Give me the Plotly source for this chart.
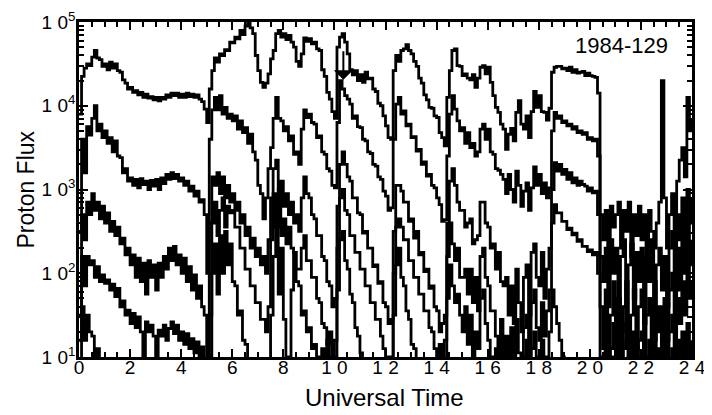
import numpy as np
import plotly.graph_objects as go

# time grid (hours UT), 0.1 h sampling
time_h = np.round(np.arange(0, 241) * 0.1, 1)

# log10 proton flux, one row per hour
ch1_log = [
 3.9,4.35,4.45,4.5,4.48,4.58,4.66,4.57,4.55,4.47,
 4.5,4.43,4.52,4.45,4.5,4.42,4.4,4.31,4.27,4.2,
 4.22,4.16,4.18,4.13,4.16,4.1,4.14,4.09,4.11,4.07,
 4.1,4.06,4.1,4.08,4.13,4.1,4.15,4.12,4.15,4.1,
 4.14,4.1,4.15,4.11,4.14,4.1,4.13,4.08,4.05,3.96,
 3.8,4.2,4.42,4.57,4.52,4.62,4.6,4.67,4.66,4.76,
 4.75,4.82,4.8,4.9,4.85,4.95,5.0,4.93,4.86,4.6,
 4.42,4.28,4.22,4.27,4.38,4.56,4.66,4.86,4.9,4.82,
 4.86,4.79,4.84,4.76,4.7,4.53,4.47,4.62,4.81,4.77,
 4.8,4.74,4.76,4.68,4.66,4.43,4.35,4.16,4.08,3.93,
 3.85,4.7,4.82,4.86,4.76,4.62,4.43,4.37,4.42,4.3,
 4.37,4.28,4.4,4.32,4.33,4.2,4.17,4.03,4.0,3.88,
 3.76,3.62,3.6,4.42,4.6,4.53,4.66,4.68,4.73,4.66,
 4.62,4.53,4.47,4.33,4.27,4.13,4.07,3.98,3.97,3.88,
 3.86,3.68,3.62,3.52,4.1,4.42,4.66,4.68,4.48,4.47,
 4.36,4.38,4.33,4.31,4.37,4.22,4.33,4.46,4.48,4.38,
 4.46,4.28,4.12,3.98,3.92,3.78,3.72,3.48,3.66,3.73,
 3.58,3.92,4.06,3.78,3.72,3.88,3.62,3.93,4.17,3.98,
 4.12,3.93,3.92,3.83,3.97,4.4,4.46,4.47,4.47,4.44,
 4.45,4.42,4.46,4.4,4.43,4.39,4.4,4.41,4.36,4.39,
 4.36,4.35,4.34,4.15,2.7,2.4,2.75,2.2,2.8,2.55,
 2.7,2.85,2.3,2.75,2.5,2.85,2.2,2.7,2.45,2.8,
 2.4,2.7,2.1,2.75,2.5,2.3,2.6,2.85,4.3,2.9,
 2.3,2.7,2.95,2.5,3.1,3.35,3.5,3.15,4.1,3.7,
 3.85]

ch2_log = [
 2.5,3.6,3.2,3.75,3.65,3.85,4.0,3.7,3.78,3.62,
 3.7,3.55,3.62,3.45,3.58,3.4,3.38,3.2,3.25,3.1,
 3.14,3.05,3.12,3.02,3.13,3.06,3.1,3.0,3.11,3.04,
 3.12,3.0,3.14,3.07,3.18,3.12,3.2,3.13,3.18,3.1,
 3.14,3.05,3.1,2.98,3.04,2.92,2.98,2.85,2.88,2.7,
 2.0,3.6,3.95,4.1,3.95,4.12,3.9,3.98,3.85,3.9,
 3.82,3.88,3.72,3.82,3.68,3.74,3.55,3.66,3.45,3.35,
 3.05,2.95,2.65,2.9,3.25,3.5,3.85,4.1,3.85,3.82,
 3.7,3.75,3.58,3.64,3.42,3.45,3.3,3.72,3.95,3.86,
 3.9,3.8,3.78,3.62,3.64,3.45,3.42,3.25,3.22,3.05,
 3.02,3.8,4.3,4.2,4.12,4.08,4.02,3.85,3.88,3.75,
 3.74,3.6,3.58,3.45,3.43,3.3,3.28,3.15,3.12,2.98,
 2.92,2.75,2.78,3.6,4.02,4.1,3.9,3.94,3.76,3.78,
 3.62,3.63,3.46,3.48,3.3,3.33,3.16,3.18,3.05,3.02,
 2.9,2.82,2.62,2.64,3.4,3.9,4.12,3.96,3.82,3.7,
 3.74,3.55,3.68,3.5,3.55,3.4,3.45,3.72,3.78,3.6,
 3.72,3.45,3.42,3.25,3.23,3.18,3.12,2.95,3.18,3.0,
 2.85,3.22,3.05,2.8,2.98,3.08,2.75,3.02,3.27,3.05,
 3.18,2.95,3.08,2.9,3.02,3.7,3.92,3.85,3.88,3.8,
 3.82,3.76,3.78,3.72,3.75,3.68,3.7,3.66,3.68,3.6,
 3.62,3.58,3.6,3.4,2.2,1.9,2.3,1.6,2.4,2.0,
 2.3,1.5,2.2,2.4,1.3,2.1,2.35,1.7,2.25,1.9,
 2.3,1.4,2.2,1.9,2.4,1.2,2.1,2.3,1.8,2.2,
 1.6,2.3,2.5,1.9,2.7,2.4,2.9,2.3,3.0,2.6,
 2.9]

ch3_log = [
 1.5,2.7,2.4,2.85,2.7,2.95,2.75,2.85,2.65,2.8,
 2.6,2.72,2.5,2.62,2.45,2.55,2.35,2.42,2.22,2.3,
 2.1,2.22,1.95,2.18,1.9,2.12,1.75,2.15,1.95,2.1,
 1.8,2.12,1.95,2.2,2.05,2.3,2.15,2.32,2.1,2.22,
 2.0,2.18,1.9,2.08,1.8,1.98,1.7,1.85,1.6,1.5,
 0.9,2.6,3.15,3.05,3.2,2.95,3.15,2.9,3.05,2.85,
 2.95,2.75,2.85,2.6,2.7,2.45,2.55,2.3,2.42,2.2,
 2.3,2.1,2.2,2.0,2.4,2.9,3.25,3.35,3.0,3.1,
 2.8,2.95,2.7,2.85,2.6,2.7,2.5,2.9,3.15,2.95,
 2.9,2.7,2.65,2.45,2.45,2.2,2.15,1.9,1.85,1.6,
 1.7,2.8,3.3,3.45,3.3,3.15,3.1,2.9,2.9,2.72,
 2.7,2.48,2.5,2.3,2.3,2.08,2.1,1.88,1.9,1.65,
 1.6,1.4,1.45,2.5,3.05,3.05,2.98,2.85,2.85,2.62,
 2.65,2.42,2.5,2.22,2.25,2.02,2.05,1.82,1.85,1.6,
 1.55,1.3,1.4,1.5,2.6,3.1,3.25,3.05,2.85,2.75,
 2.75,2.55,2.6,2.65,2.35,2.4,2.45,2.85,2.85,2.6,
 2.55,2.3,2.35,2.05,2.25,1.9,1.85,1.95,1.5,1.85,
 1.4,2.05,1.65,1.3,1.95,2.1,1.5,2.25,2.35,1.95,
 1.85,2.25,1.7,2.05,2.3,3.0,3.32,3.22,3.3,3.18,
 3.24,3.12,3.2,3.08,3.14,3.05,3.1,3.06,3.04,2.98,
 3.02,2.96,2.98,2.7,1.6,1.1,1.8,0.9,1.5,1.9,
 1.2,1.7,0.8,1.6,1.9,1.0,1.5,1.8,1.1,1.6,
 1.8,0.9,1.5,1.7,1.0,1.9,1.3,1.6,0.8,1.7,
 1.2,1.8,2.0,1.4,2.3,1.8,2.4,2.0,2.6,2.1,
 2.4]

ch4_log = [
 1.2,2.2,1.85,2.2,2.1,2.15,1.95,2.08,1.9,1.98,
 1.88,1.92,1.8,1.87,1.72,1.82,1.6,1.67,1.5,1.56,
 1.4,1.52,1.35,1.48,1.3,1.0,1.42,1.3,1.38,1.25,
 1.0,1.32,1.25,1.38,1.2,1.34,1.42,1.28,1.38,1.2,
 1.3,1.15,1.28,1.1,1.22,1.05,1.18,1.0,1.12,0.95,
 0.8,1.5,2.6,2.85,2.45,2.75,2.9,2.55,2.8,2.72,
 2.75,2.55,2.55,2.3,2.3,2.05,2.05,1.85,1.85,1.65,
 1.65,1.45,1.45,1.3,1.6,2.4,2.95,2.55,3.0,2.45,
 2.65,2.35,2.55,2.3,2.25,2.05,2.05,2.3,2.45,2.15,
 2.15,1.95,1.95,1.7,1.65,1.4,1.35,1.15,1.3,0.9,
 1.2,2.3,2.9,3.0,2.75,2.7,2.45,2.45,2.25,2.25,
 2.05,2.05,1.85,1.85,1.65,1.65,1.45,1.45,1.25,1.1,
 0.9,1.0,0.8,2.0,2.55,2.65,2.55,2.4,2.4,2.15,
 2.15,1.95,1.95,1.75,1.75,1.55,1.55,1.35,1.3,1.1,
 0.9,1.15,0.8,1.2,2.2,2.6,2.35,2.15,2.3,1.95,
 1.95,2.05,1.75,2.05,1.65,1.95,1.55,2.2,2.3,1.95,
 1.85,1.55,1.55,1.25,1.0,1.45,0.9,1.25,1.0,1.35,
 0.9,1.45,1.05,0.8,1.35,1.5,0.9,1.65,1.8,1.35,
 1.2,1.65,1.25,1.55,1.8,2.6,2.82,2.72,2.72,2.62,
 2.62,2.52,2.54,2.46,2.48,2.38,2.4,2.32,2.32,2.26,
 2.28,2.22,2.25,2.0,1.0,0.8,1.3,0.8,1.1,1.4,
 0.9,1.2,0.8,1.1,1.4,0.8,1.0,1.3,0.8,1.2,
 1.3,0.8,1.0,1.2,0.8,1.4,0.9,1.1,0.8,1.2,
 0.8,1.3,1.5,1.0,1.7,1.4,1.9,1.5,2.1,1.7,
 1.9]

ch5_log = [
 0.8,1.6,1.2,1.5,1.3,1.25,0.9,1.1,0.8,0.8,
 0.8,0.8,0.8,0.8,0.8,0.8,0.8,0.8,0.8,0.8,
 0.8,0.8,0.8,0.8,0.8,0.8,0.8,0.8,0.8,0.8,
 0.8,0.8,0.8,0.8,0.8,0.8,0.8,0.8,0.8,0.8,
 0.8,0.8,0.8,0.8,0.8,0.8,0.8,0.8,0.8,0.8,
 0.8,1.0,2.0,2.35,1.75,2.45,2.0,2.5,2.1,2.35,
 1.9,1.85,1.5,1.55,1.2,1.15,0.9,0.8,0.8,0.8,
 0.8,0.8,0.8,0.9,0.9,1.5,2.2,2.6,1.75,2.3,
 1.45,1.0,0.9,1.8,2.25,1.9,1.85,1.5,1.55,1.3,
 1.35,1.1,1.15,0.9,1.0,1.1,0.8,1.2,0.8,1.0,
 0.8,1.8,2.4,2.5,2.15,2.05,1.75,1.65,1.35,1.25,
 1.05,0.9,0.8,0.8,0.8,0.8,0.8,0.8,0.8,0.8,
 0.8,0.8,0.8,1.5,2.1,2.3,1.95,1.85,1.55,1.45,
 1.15,1.1,0.85,0.8,0.8,0.8,0.8,0.8,0.8,0.8,
 0.8,0.8,0.8,0.9,1.7,2.1,1.85,1.65,1.75,1.5,
 1.3,1.6,1.15,1.5,1.0,1.3,1.1,1.7,1.8,1.4,
 1.2,1.0,0.9,1.1,0.8,1.0,0.8,0.9,0.8,1.0,
 0.8,0.9,0.8,0.8,1.0,1.2,0.8,1.1,1.3,1.0,
 0.9,1.2,0.8,1.0,1.3,1.8,1.6,1.4,1.2,1.0,
 0.9,0.8,0.8,0.8,0.8,0.8,0.8,0.8,0.8,0.8,
 0.8,0.8,0.8,0.8,0.8,0.8,1.1,0.8,0.8,1.0,
 0.8,0.8,1.2,0.8,0.8,1.0,0.8,0.8,1.1,0.8,
 0.8,1.0,0.8,0.8,1.2,0.8,0.8,0.8,1.0,0.8,
 0.8,0.8,1.1,0.8,1.2,0.8,1.3,0.8,1.4,1.0,
 1.2]

channels = [ch1_log, ch2_log, ch3_log, ch4_log, ch5_log]

x_tickvals = [0, 2, 4, 6, 8, 10, 12, 14, 16, 18, 20, 22, 24]
x_ticktext = ["0", "2", "4", "6", "8", "1 0", "1 2", "1 4", "1 6", "1 8", "2 0", "2 2", "2 4"]
y_tickvals = [1e1, 1e2, 1e3, 1e4, 1e5]
y_ticktext = ["1 0<sup>1</sup>", "1 0<sup>2</sup>", "1 0<sup>3</sup>", "1 0<sup>4</sup>", "1 0<sup>5</sup>"]
y_minor = [m * 10 ** e for e in range(1, 5) for m in range(2, 10)]

FONT = "Liberation Sans, Arial, Helvetica, sans-serif"

fig = go.Figure()
for ch in channels:
    fig.add_trace(go.Scatter(
        x=time_h, y=10 ** np.array(ch), mode="lines",
        line=dict(color="black", width=2.8, shape="hv"),
        showlegend=False, hoverinfo="skip"))

# page body has an 8 px margin; figure placed so the plot area lands where the reference has it
fig.update_layout(
    width=704, height=407,
    margin=dict(l=71, r=20, t=14, b=58),
    paper_bgcolor="white", plot_bgcolor="white",
    font=dict(family=FONT, color="black", size=18),
    xaxis=dict(
        range=[0, 24], tickmode="array", tickvals=x_tickvals, ticktext=x_ticktext,
        ticks="inside", ticklen=8, tickwidth=2, tickcolor="black",
        showline=True, linewidth=2.5, linecolor="black", mirror="allticks",
        showgrid=False, zeroline=False, automargin=False,
        minor=dict(tickmode="linear", tick0=0, dtick=0.5, ticks="inside",
                   ticklen=5, tickwidth=1.5, tickcolor="black", showgrid=False),
        tickfont=dict(size=19), ticklabelstandoff=-9,
    ),
    yaxis=dict(
        type="log", range=[1, 5], tickmode="array", tickvals=y_tickvals, ticktext=y_ticktext,
        ticks="inside", ticklen=9, tickwidth=2, tickcolor="black",
        showline=True, linewidth=2.5, linecolor="black", mirror="allticks",
        showgrid=False, zeroline=False, automargin=False,
        minor=dict(tickmode="array", tickvals=y_minor, ticks="inside",
                   ticklen=5, tickwidth=1.5, tickcolor="black", showgrid=False),
        tickfont=dict(size=19), ticklabelstandoff=-3,
    ),
    annotations=[
        dict(text="Universal Time", xref="paper", yref="paper", x=0.499, y=-0.122,
             xanchor="center", yanchor="middle", showarrow=False,
             font=dict(size=24, family=FONT)),
        dict(text="Proton Flux", xref="paper", yref="paper", x=-0.088, y=0.5,
             xanchor="center", yanchor="middle", showarrow=False, textangle=-90,
             font=dict(size=23, family=FONT)),
        dict(text="1984-129", xref="paper", yref="paper", x=0.964, y=0.93,
             xanchor="right", yanchor="middle", showarrow=False,
             font=dict(size=22, family=FONT)),
        dict(text="", x=10.35, y=4.31, xref="x", yref="y", showarrow=True,
             ax=0, ay=-30, arrowhead=1, arrowsize=1.6, arrowwidth=2, arrowcolor="black"),
    ],
)

fig.write_html("out.html")
